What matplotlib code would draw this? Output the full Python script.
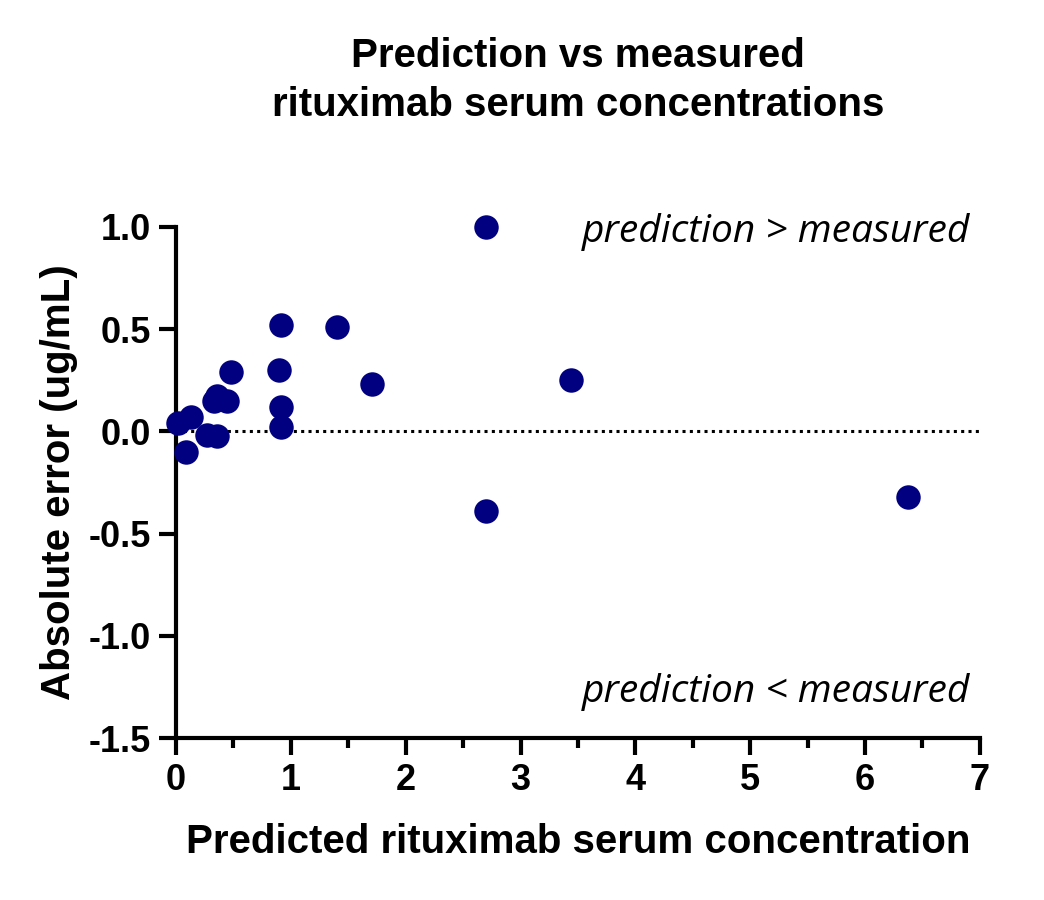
import numpy as np
import matplotlib
matplotlib.use("Agg")
import matplotlib.pyplot as plt
from matplotlib.ticker import MultipleLocator

# predicted concentration vs absolute error
predicted = [2.70, 0.91, 1.40, 0.48, 0.90, 1.71, 3.44, 0.33, 0.36, 0.44,
             0.91, 0.91, 0.02, 0.13, 0.09, 0.27, 0.36, 2.70, 6.37]
abs_error = [1.00, 0.52, 0.51, 0.29, 0.30, 0.23, 0.25, 0.15, 0.175, 0.15,
             0.12, 0.02, 0.04, 0.07, -0.10, -0.02, -0.025, -0.39, -0.32]

x_ticks = [0, 1, 2, 3, 4, 5, 6, 7]
y_ticks = [-1.5, -1.0, -0.5, 0.0, 0.5, 1.0]

plt.rcParams['font.family'] = ['Liberation Sans', 'DejaVu Sans']

fig = plt.figure(figsize=(10.44, 9), dpi=100)
ax = fig.add_axes([0.1686, 0.18, 0.77, 0.5678])

ax.axhline(0, color='black', linestyle=(0, (1, 1.4)), linewidth=2.2,
           dash_capstyle='butt', zorder=1)
ax.scatter(predicted, abs_error, s=310, color='#000080', zorder=3,
           clip_on=False, linewidths=0)

ax.set_xlim(0, 7)
ax.set_ylim(-1.5, 1.0)
ax.set_xticks(x_ticks)
ax.set_yticks(y_ticks)
ax.xaxis.set_minor_locator(MultipleLocator(0.5))
ax.set_yticklabels([f'{v:.1f}' for v in y_ticks])

for side in ['top', 'right']:
    ax.spines[side].set_visible(False)
for side in ['left', 'bottom']:
    ax.spines[side].set_linewidth(3)

ax.tick_params(axis='both', which='major', length=12, width=3,
               labelsize=26, pad=6)
ax.tick_params(axis='x', which='minor', length=7, width=3)
for lab in ax.get_xticklabels() + ax.get_yticklabels():
    lab.set_fontweight('bold')

ax.set_xlabel('Predicted rituximab serum concentration', fontsize=29,
              fontweight='bold', labelpad=18)
ax.set_ylabel('Absolute error (ug/mL)', fontsize=29, fontweight='bold',
              labelpad=8)
ax.set_title('Prediction vs measured\nrituximab serum concentrations',
             fontsize=29, fontweight='bold', pad=80, linespacing=1.35)

ax.text(0.988, 0.99, 'prediction > measured', transform=ax.transAxes,
        ha='right', va='center', fontsize=28, style='italic',
        family=['Open Sans', 'DejaVu Sans'])
ax.text(0.988, 0.09, 'prediction < measured', transform=ax.transAxes,
        ha='right', va='center', fontsize=28, style='italic',
        family=['Open Sans', 'DejaVu Sans'])

fig.savefig('out.png', dpi=100)
